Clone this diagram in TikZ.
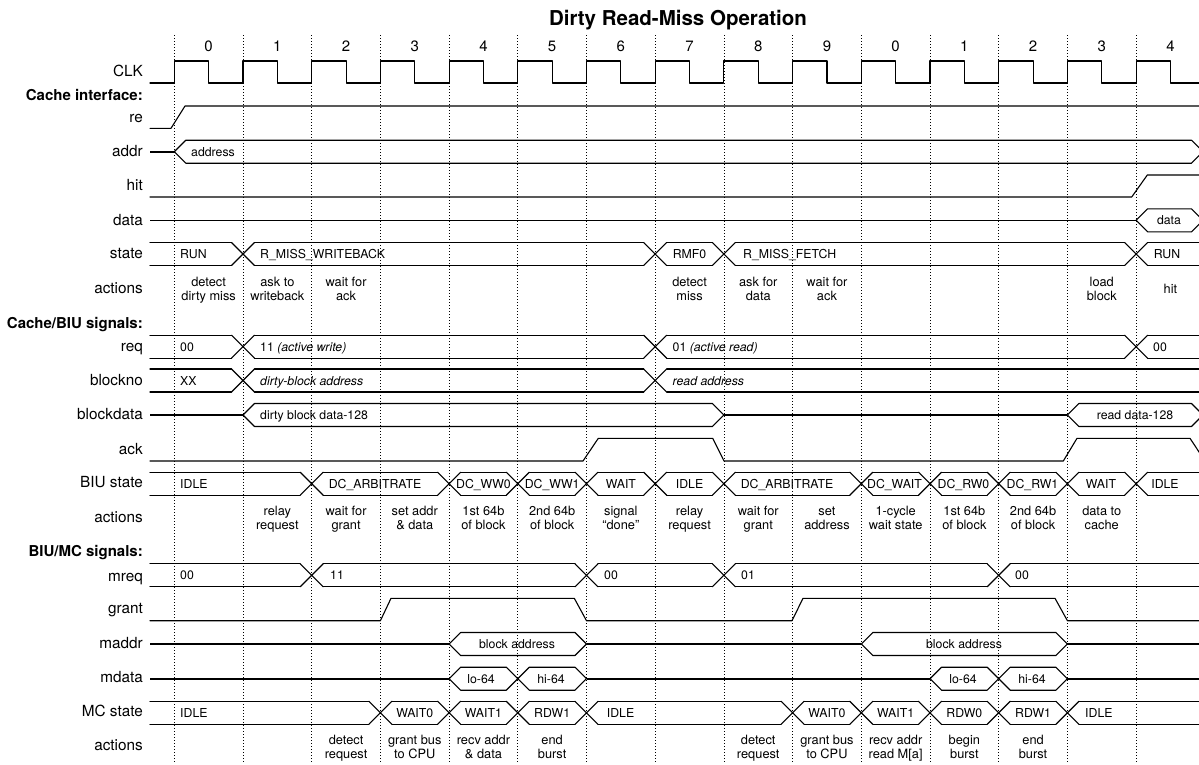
\documentclass[tikz,border=0pt]{standalone}
\usepackage{fontspec}
\setmainfont{TeX Gyre Heros}
\tikzset{
  sig/.style={line width=1.1pt, line join=round, line cap=round},
  hz/.style={line width=1.6pt},
  gridl/.style={line width=0.8pt, dash pattern=on 1.2pt off 1.8pt},
  lab/.style={font=\fontsize{15.3}{18}\selectfont, anchor=base east, inner sep=0pt},
  hdr/.style={font=\bfseries\fontsize{15}{18}\selectfont, anchor=base east, inner sep=0pt},
  val/.style={font=\fontsize{12.3}{14}\selectfont, anchor=base, inner sep=0pt},
  valL/.style={val, anchor=base west},
  actf/.style={font=\fontsize{12.8}{14}\selectfont, anchor=base, inner sep=0pt},
  num/.style={font=\fontsize{15}{18}\selectfont, anchor=base, inner sep=0pt},
}
\def\Tw{11.5}
\def\Hw{11.5}
\pgfmathdeclarefunction{gx}{1}{\pgfmathparse{174.3+68.7*#1}}
\pgfmathdeclarefunction{cx}{1}{\pgfmathparse{208.65+68.7*#1}}
\newcommand\busX[2]{\draw[sig] ({#1-\Tw},#2-\Hw) -- ({#1+\Tw},#2+\Hw) ({#1-\Tw},#2+\Hw) -- ({#1+\Tw},#2-\Hw);}
\newcommand\busrow[2]{%
  \draw[sig] (150,#1-\Hw) foreach \k in {#2} { -- ({gx(\k)-\Tw},#1-\Hw) ({gx(\k)+\Tw},#1-\Hw) } -- (1199,#1-\Hw);
  \draw[sig] (150,#1+\Hw) foreach \k in {#2} { -- ({gx(\k)-\Tw},#1+\Hw) ({gx(\k)+\Tw},#1+\Hw) } -- (1199,#1+\Hw);
  \foreach \k in {#2} { \busX{gx(\k)}{#1} }}
\newcommand\hexseg[3]{%
  \draw[sig] ({#2+\Tw},#1-\Hw) -- ({#2},#1) -- ({#2+\Tw},#1+\Hw) -- ({#3-\Tw},#1+\Hw) -- ({#3},#1) -- ({#3-\Tw},#1-\Hw) -- cycle;}
\newcounter{tn}
\newcommand\T[4][val]{\stepcounter{tn}\node[#1] (t\arabic{tn}) at (#2,#3) {#4};}
\newcommand\A[4]{\stepcounter{tn}\node[actf] (a\arabic{tn}) at (#1,#2) {#3};
  \node[actf] (b\arabic{tn}) at (#1,#2+14.7) {#4};}
\begin{document}
\begin{tikzpicture}[x=1pt,y=-1pt]
\useasboundingbox (0,0) rectangle (1199,764);
\clip (0,0) rectangle (1199,764);
% title and cycle numbers
\node[font=\bfseries\fontsize{20.5}{24}\selectfont, anchor=base, inner sep=0pt] (title) at (678,25) {Dirty Read-Miss Operation};
\foreach \k/\n in {0/0,1/1,2/2,3/3,4/4,5/5,6/6,7/7,8/8,9/9,10/0,11/1,12/2,13/3,14/4}
  { \node[num] (n\k) at ({cx(\k)},51.5) {\n}; }
% grid lines
\foreach \k in {0,...,14} { \draw[gridl] ({gx(\k)},35) -- ({gx(\k)},762); }
% labels
\node[lab] (lclk) at (143,76) {CLK};
\node[hdr] (h1) at (143,100) {Cache interface:};
\node[lab] (lre) at (143,122) {re};
\node[lab] (laddr) at (143,156.5) {addr};
\node[lab] (lhit) at (143,190.5) {hit};
\node[lab] (ldata) at (143,225) {data};
\node[lab] (lstate) at (143,258.5) {state};
\node[lab] (lact1) at (143,293.3) {actions};
\node[hdr] (h2) at (143,328.3) {Cache/BIU signals:};
\node[lab] (lreq) at (143,351.5) {req};
\node[lab] (lbno) at (143,385) {blockno};
\node[lab] (lbdata) at (143,419.3) {blockdata};
\node[lab] (lack) at (143,454) {ack};
\node[lab] (lbiu) at (143,487.7) {BIU state};
\node[lab] (lact2) at (143,522.3) {actions};
\node[hdr] (h3) at (143,556.7) {BIU/MC signals:};
\node[lab] (lmreq) at (143,581.7) {mreq};
\node[lab] (lgrant) at (143,613.5) {grant};
\node[lab] (lmaddr) at (143,648.3) {maddr};
\node[lab] (lmdata) at (143,682.7) {mdata};
\node[lab] (lmc) at (143,716.7) {MC state};
\node[lab] (lact3) at (143,750.7) {actions};
% CLK
\draw[sig] (150,83) foreach \k in {0,...,14} { -- ({gx(\k)},83) -- ({gx(\k)},61) -- ({gx(\k)+34.35},61) -- ({gx(\k)+34.35},83) } -- (1199,83);
% re
\draw[sig] (150,128.3) -- (171,128.3) -- (185,106) -- (1199,106);
% addr
\draw[hz] (150,151.7) -- ({gx(0)},151.7);
\hexseg{151.7}{gx(0)}{1203}
\T[valL]{191}{156.2}{address}
% hit
\draw[sig] (150,197) -- (1131.7,197) -- (1147.3,175) -- (1199,175);
% data
\draw[hz] (150,220.3) -- ({gx(14)},220.3);
\hexseg{220.3}{gx(14)}{1203}
\T{1169}{224.8}{data}
% state
\busrow{254}{1,7,8,14}
\T[valL]{180}{258.5}{RUN}
\T[valL]{260}{258.5}{R\_MISS\_WRITEBACK}
\T{689.55}{258.5}{RMF0}
\T[valL]{743}{258.5}{R\_MISS\_FETCH}
\T{1167}{258.5}{RUN}
% cache actions
\A{208.65}{286}{detect}{dirty miss}
\A{277.35}{286}{ask to}{writeback}
\A{346.05}{286}{wait for}{ack}
\A{689.55}{286}{detect}{miss}
\A{758.25}{286}{ask for}{data}
\A{826.95}{286}{wait for}{ack}
\A{1101.75}{286}{load}{block}
\node[actf] (ahit) at (1170.45,293.3) {hit};
% req
\busrow{346.7}{1,7,14}
\T[valL]{180}{351.2}{00}
\T[valL]{260}{351.2}{11 \textit{(active write)}}
\T[valL]{672.5}{351.2}{01 \textit{(active read)}}
\T[valL]{1153}{351.2}{00}
% blockno
\busrow{380.5}{1,7}
\T[valL]{180}{385}{XX}
\T[valL]{260}{385}{\textit{dirty-block address}}
\T[valL]{672.5}{385}{\textit{read address}}
% blockdata
\draw[hz] (150,415) -- ({gx(1)},415);
\hexseg{415}{gx(1)}{gx(8)}
\draw[hz] ({gx(8)},415) -- ({gx(13)},415);
\hexseg{415}{gx(13)}{1203}
\T[valL]{260}{419.5}{dirty block data-128}
\T{1135}{419.5}{read data-128}
% ack
\draw[sig] (150,461) -- (583,461) -- (598.3,438.3) -- (712.7,438.3) -- (724,461) -- (1063.3,461) -- (1077,438.3) -- (1190,438.3) -- (1205,461);
% BIU state
\busrow{483.7}{2,4,5,6,7,8,10,11,12,13,14}
\T[valL]{180}{488.2}{IDLE}
\T{375}{488.2}{DC\_ARBITRATE}
\T{483.45}{488.2}{DC\_WW0}
\T{552.15}{488.2}{DC\_WW1}
\T{620.85}{488.2}{WAIT}
\T{689.55}{488.2}{IDLE}
\T{787}{488.2}{DC\_ARBITRATE}
\T{894.5}{488.2}{DC\_WAIT}
\T{963.5}{488.2}{DC\_RW0}
\T{1032.5}{488.2}{DC\_RW1}
\T{1101}{488.2}{WAIT}
\T{1165}{488.2}{IDLE}
% BIU actions
\A{277.35}{515}{relay}{request}
\A{346.05}{515}{wait for}{grant}
\A{414.75}{515}{set addr}{\& data}
\A{483.45}{515}{1st 64b}{of block}
\A{552.15}{515}{2nd 64b}{of block}
\A{620.85}{515}{signal}{``done''}
\A{689.55}{515}{relay}{request}
\A{758.25}{515}{wait for}{grant}
\A{826.95}{515}{set}{address}
\A{895.65}{515}{1-cycle}{wait state}
\A{964.35}{515}{1st 64b}{of block}
\A{1033.05}{515}{2nd 64b}{of block}
\A{1101.75}{515}{data to}{cache}
% mreq
\busrow{575.3}{2,6,8,12}
\T[valL]{180}{579.8}{00}
\T[valL]{330}{579.8}{11}
\T[valL]{604}{579.8}{00}
\T[valL]{741}{579.8}{01}
\T[valL]{1015}{579.8}{00}
% grant
\draw[sig] (150,620.7) -- (380.4,620.7) -- (391,598.3) -- (574.3,598.3) -- (586.5,620.7) -- (792,620.7) -- (803,598.3) -- (1055,598.3) -- (1067.4,620.7) -- (1199,620.7);
% maddr
\draw[hz] (150,644) -- ({gx(4)},644);
\hexseg{644}{gx(4)}{gx(6)}
\draw[hz] ({gx(6)},644) -- ({gx(10)},644);
\hexseg{644}{gx(10)}{gx(13)}
\draw[hz] ({gx(13)},644) -- (1199,644);
\T{517}{648.5}{block address}
\T{964}{648.5}{block address}
% mdata
\draw[hz] (150,678.7) -- ({gx(4)},678.7);
\hexseg{678.7}{gx(4)}{gx(5)}
\hexseg{678.7}{gx(5)}{gx(6)}
\draw[hz] ({gx(6)},678.7) -- ({gx(11)},678.7);
\hexseg{678.7}{gx(11)}{gx(12)}
\hexseg{678.7}{gx(12)}{gx(13)}
\draw[hz] ({gx(13)},678.7) -- (1199,678.7);
\T{481}{683.2}{lo-64}
\T{551}{683.2}{hi-64}
\T{963}{683.2}{lo-64}
\T{1032}{683.2}{hi-64}
% MC state
\busrow{712.8}{3,4,5,6,9,10,11,12,13}
\T[valL]{180}{717.3}{IDLE}
\T{414.75}{717.3}{WAIT0}
\T{483.45}{717.3}{WAIT1}
\T{552.15}{717.3}{RDW1}
\T[valL]{606.7}{717.3}{IDLE}
\T{826.95}{717.3}{WAIT0}
\T{895.65}{717.3}{WAIT1}
\T{964.35}{717.3}{RDW0}
\T{1033.05}{717.3}{RDW1}
\T[valL]{1085}{717.3}{IDLE}
% MC actions
\A{346.05}{744}{detect}{request}
\A{414.75}{744}{grant bus}{to CPU}
\A{483.45}{744}{recv addr}{\& data}
\A{552.15}{744}{end}{burst}
\A{758.25}{744}{detect}{request}
\A{826.95}{744}{grant bus}{to CPU}
\A{895.65}{744}{recv addr}{read M[a]}
\A{964.35}{744}{begin}{burst}
\A{1033.05}{744}{end}{burst}
\end{tikzpicture}
\end{document}
